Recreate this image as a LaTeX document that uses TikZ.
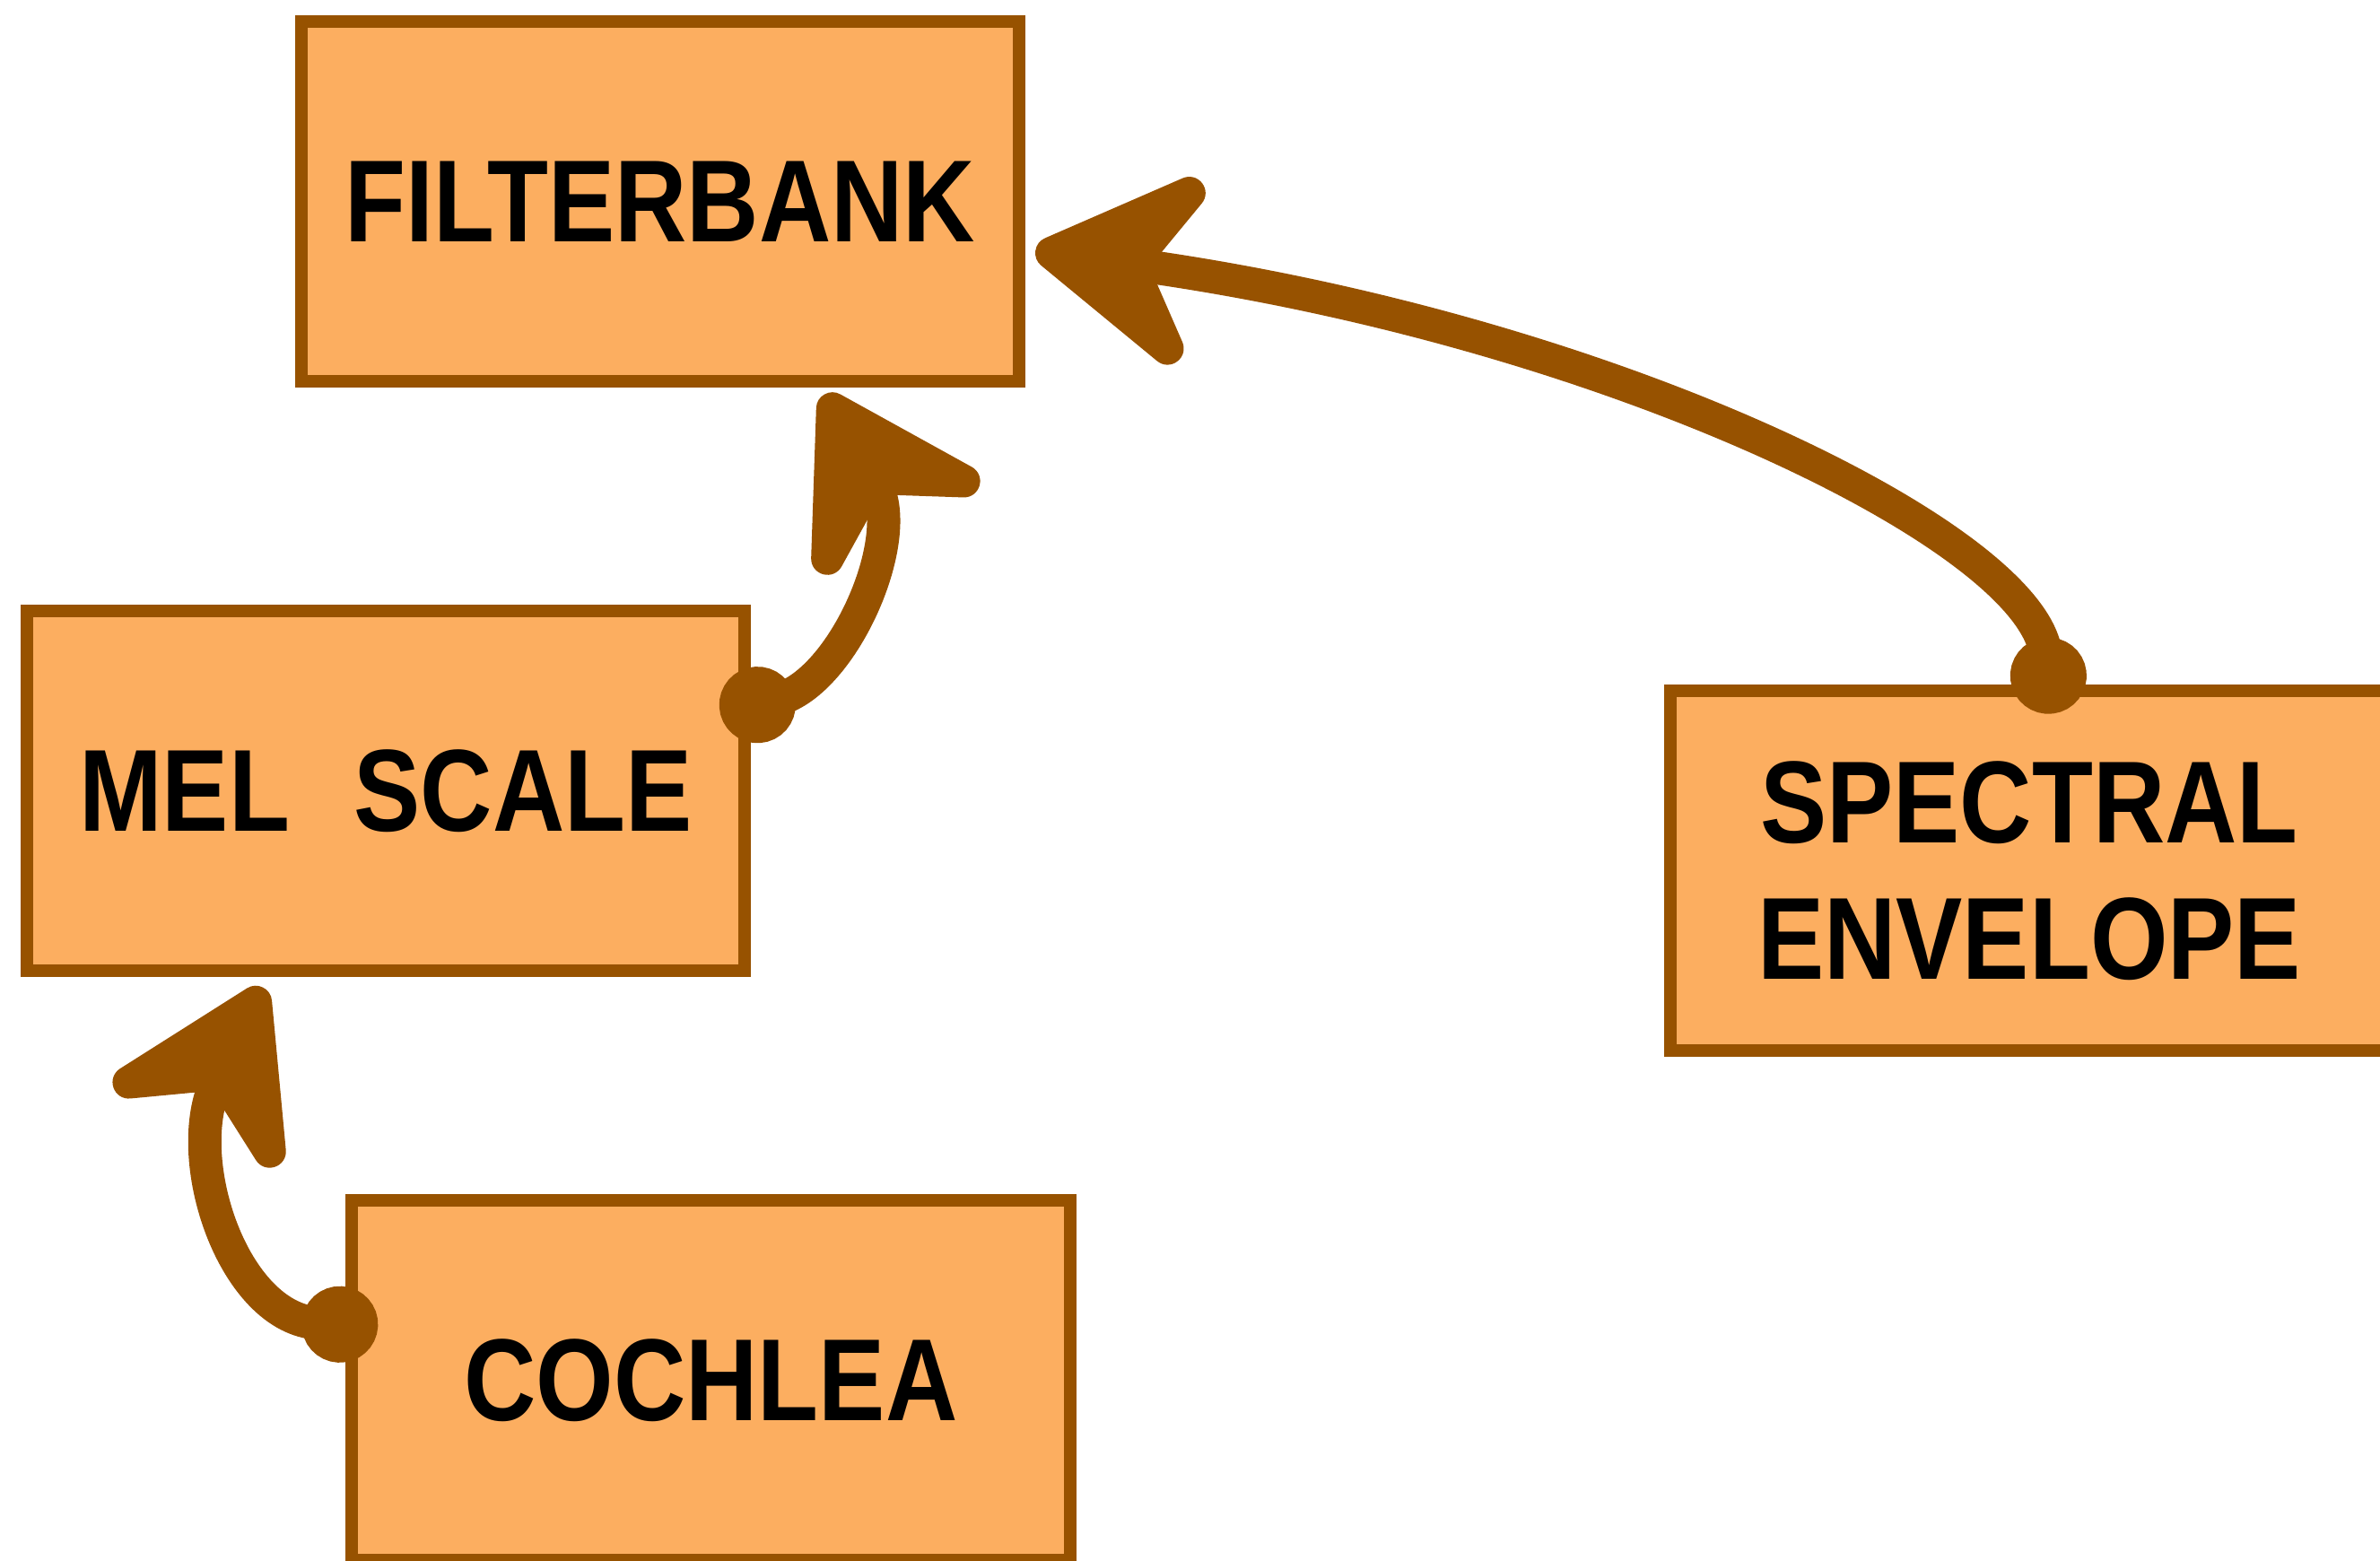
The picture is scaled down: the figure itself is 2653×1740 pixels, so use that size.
\documentclass[tikz,border=0pt]{standalone}
\usepackage{fontspec}
\setmainfont{Liberation Sans}[FakeStretch=0.855]
\usetikzlibrary{arrows.meta,calc}

\definecolor{boxfill}{HTML}{FCAE60}
\definecolor{boxline}{HTML}{975200}

\tikzset{
  stage/.style={draw=boxline, fill=boxfill, line width=0.14cm,
    minimum width=8cm, minimum height=4cm, inner sep=0pt,
    align=center, font=\bfseries\fontsize{37}{43.2}\selectfont},
  flow/.style={draw=boxline, line width=0.37cm, line cap=round,
    {Circle[length=0.85cm]}-{Stealth[round, length=2.3cm, width=2.8cm, inset=0.85cm]}}
}

\begin{document}
\begin{tikzpicture}[x=0.01cm, y=-0.01cm]
  \useasboundingbox (0,0) rectangle (2653,1740);
  \clip (0,0) rectangle (2653,1740);

  % processing stages
  \node[stage] (fb)   at (736,224.5)   {FILTERBANK};
  \node[stage] (mel)  at (430,881.5)   {MEL\hspace{0.55em}SCALE};
  \node[stage] (spec) at (2262,970.5)  {SPECTRAL\\ENVELOPE};
  \node[stage] (coch) at (792.5,1538.5){COCHLEA};

  % attachment points: the round tails sit on the box edges
  \coordinate (cochout) at ($(coch.north west)!0.36!(coch.south west)+(36,-2)$);
  \coordinate (melout)  at ($(mel.north east)!0.276!(mel.south east)+(-34,8)$);
  \coordinate (specout) at ($(spec.north west)!0.53!(spec.north east)+(2,32)$);
  \coordinate (melin)   at ($(mel.south)+(-137,12)$);
  \coordinate (fbin)    at ($(fb.south)+(183,8)$);
  \coordinate (fbin2)   at ($(fb.east)+(11,55)$);

  % connectors
  \draw[flow] (cochout) .. controls (260,1470) and (200,1290) .. (melin);
  \draw[flow] (melout)  .. controls (940,760) and (1010,600) .. (fbin);
  \draw[flow] (specout) .. controls (2265,600) and (1800,370) .. (fbin2);
\end{tikzpicture}
\end{document}
